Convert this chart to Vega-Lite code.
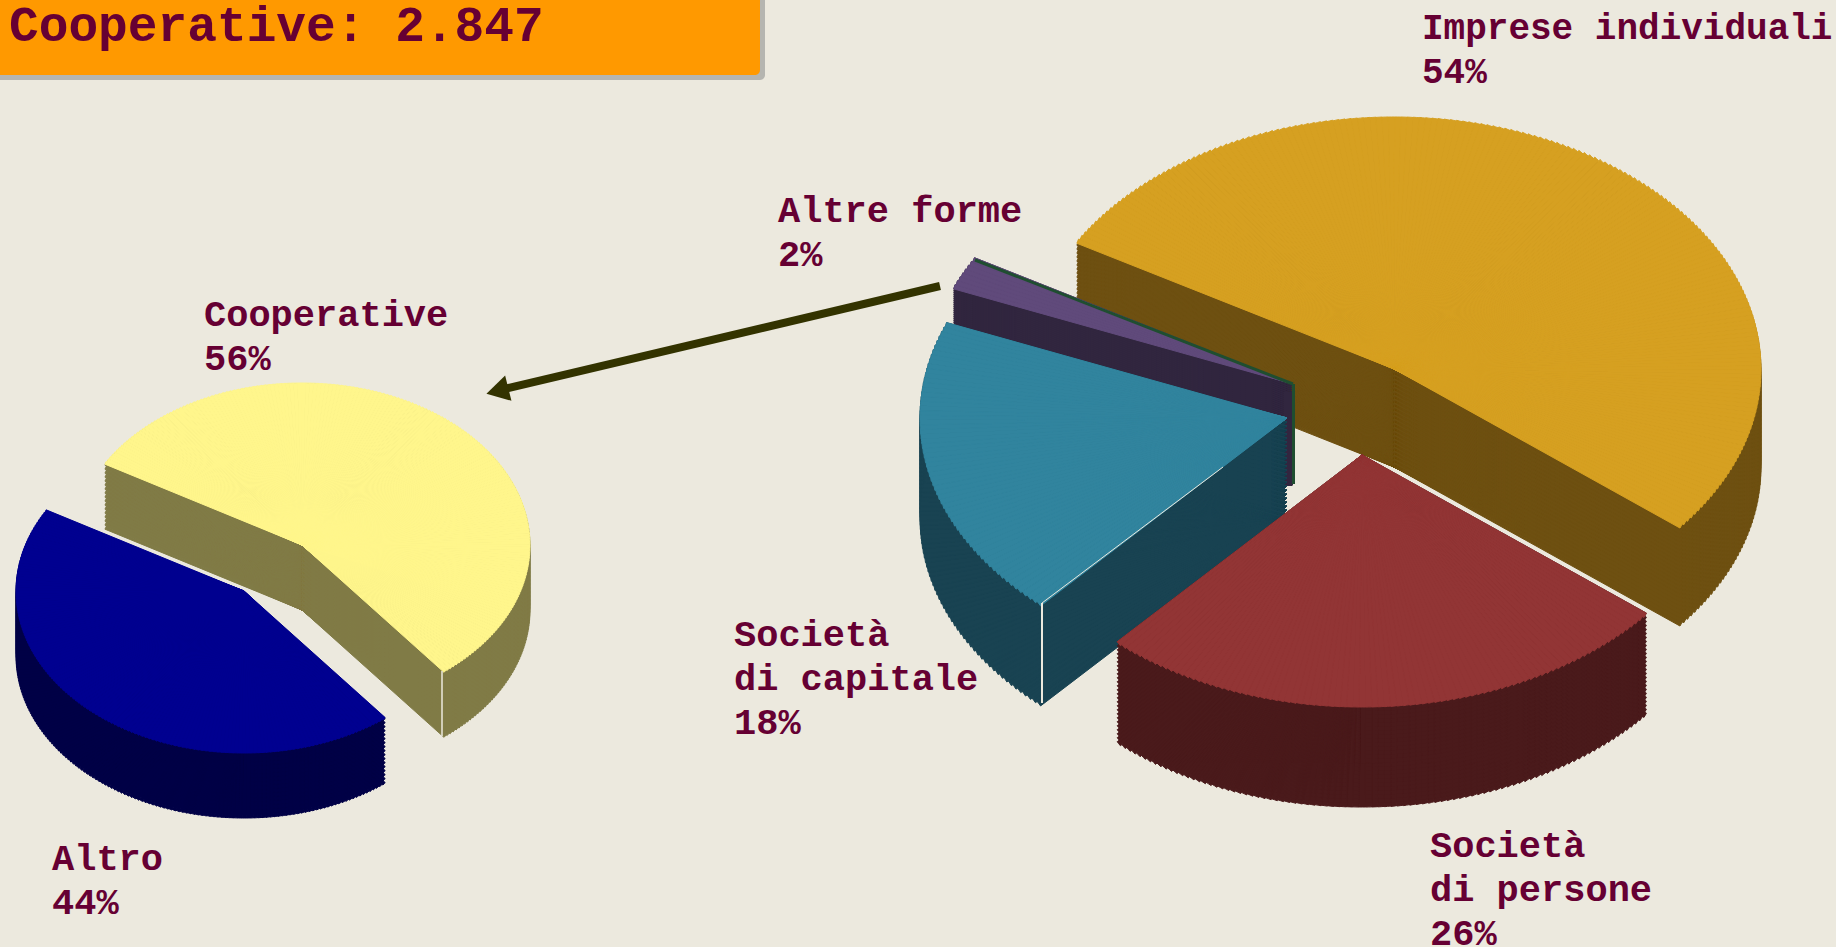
{
"$schema":"https://vega.github.io/schema/vega-lite/v6.json",
"width":1836,"height":947,"padding":0,"autosize":{"type":"none"},
"background":"#ECE9DE",
"config":{"view":{"stroke":null},"axis":{"disable":true},"legend":{"disable":true}},
"datasets":{"shares":[
{"pie":"Forma giuridica","label":"Imprese individuali","share":54,"rank":1},
{"pie":"Forma giuridica","label":"Società\ndi persone","share":26,"rank":2},
{"pie":"Forma giuridica","label":"Società\ndi capitale","share":18,"rank":3},
{"pie":"Forma giuridica","label":"Altre forme","share":2,"rank":4},
{"pie":"Tipo","label":"Cooperative","share":56,"rank":1},
{"pie":"Tipo","label":"Altro","share":44,"rank":2}
]},
"data":{"name":"shares"},
"transform":[
{"stack":"share","groupby":["pie"],"sort":[{"field":"rank","order":"ascending"}],"as":["s0","s1"]},
{"calculate":"ceil(datum.share*3.6)","as":"n"},
{"calculate":"sequence(0,datum.n)","as":"idx"},
{"flatten":["idx"]},
{"calculate":"datum.pie=='Tipo'?228:367","as":"rx"},
{"calculate":"datum.pie=='Tipo'?162:252","as":"ry"},
{"calculate":"datum.s0*3.6+datum.idx*datum.share*3.6/datum.n","as":"u0"},
{"calculate":"datum.s0*3.6+(datum.idx+1)*datum.share*3.6/datum.n","as":"u1"},
{"calculate":"datum.pie=='Tipo'?datum.u0:(datum.u0<=194.4?datum.u0-5.4*datum.u0/194.4:(datum.u0<=288?datum.u0-5.4-0.6*(datum.u0-194.4)/93.6:datum.u0-6+6*(datum.u0-288)/72))","as":"w0"},
{"calculate":"datum.pie=='Tipo'?datum.u1:(datum.u1<=194.4?datum.u1-5.4*datum.u1/194.4:(datum.u1<=288?datum.u1-5.4-0.6*(datum.u1-194.4)/93.6:datum.u1-6+6*(datum.u1-288)/72))","as":"w1"},
{"calculate":"(datum.w0-60)*PI/180","as":"t0"},
{"calculate":"(datum.w1-60)*PI/180","as":"t1"},
{"calculate":"atan2(datum.rx*sin(datum.t0),datum.ry*cos(datum.t0))","as":"a0"},
{"calculate":"datum.a0+(atan2(datum.rx*sin(datum.t1),datum.ry*cos(datum.t1))-datum.a0+2*PI)%(2*PI)","as":"a1"},
{"calculate":"(datum.t0+datum.t1)/2","as":"tm"},
{"calculate":"sqrt(pow(datum.rx*sin(datum.tm),2)+pow(datum.ry*cos(datum.tm),2))","as":"r"}
],
"layer":[
{"data":{"values":[{"box":"shadow"}]},"mark":{"type":"rect","color":"#B5B5B0","cornerRadius":5},"encoding":{"x":{"datum":-10,"type":"quantitative","scale":{"domain":[0,1836]}},"x2":{"datum":765},"y":{"datum":-10,"type":"quantitative","scale":{"domain":[947,0]}},"y2":{"datum":80}}},
{"data":{"values":[{"box":"title"}]},"mark":{"type":"rect","color":"#FF9900","cornerRadius":5},"encoding":{"x":{"datum":-10,"type":"quantitative","scale":{"domain":[0,1836]}},"x2":{"datum":760},"y":{"datum":-10,"type":"quantitative","scale":{"domain":[947,0]}},"y2":{"datum":75}}},
{"data":{"values":[{"title":"Cooperative: 2.847"}]},"mark":{"type":"text","font":"Liberation Mono","fontWeight":"bold","fontSize":49.5,"color":"#660033","align":"left","baseline":"alphabetic"},"encoding":{"text":{"field":"title"},"x":{"datum":9,"type":"quantitative","scale":{"domain":[0,1836]}},"y":{"datum":41,"type":"quantitative","scale":{"domain":[947,0]}}}},

{"transform":[{"filter":"datum.label=='Cooperative'"},{"calculate":"sequence(65,-1,-4)","as":"d"},{"flatten":["d"]}],"mark":{"type":"arc","fill":"#807B46","stroke":"#807B46","strokeWidth":1},"encoding":{"x":{"datum":302,"type":"quantitative","scale":{"domain":[0,1836]}},"y":{"datum":545,"type":"quantitative","scale":{"domain":[947,0]}},"yOffset":{"field":"d","type":"quantitative","scale":null},"theta":{"field":"a0","type":"quantitative","scale":null},"theta2":{"field":"a1"},"radius":{"field":"r","type":"quantitative","scale":null}}},
{"transform":[{"filter":"datum.label=='Cooperative'"}],"mark":{"type":"arc","fill":"#FFF68C","stroke":"#FFF68C","strokeWidth":1},"encoding":{"x":{"datum":302,"type":"quantitative","scale":{"domain":[0,1836]}},"y":{"datum":545,"type":"quantitative","scale":{"domain":[947,0]}},"theta":{"field":"a0","type":"quantitative","scale":null},"theta2":{"field":"a1"},"radius":{"field":"r","type":"quantitative","scale":null}}},
{"data":{"values":[{"edge":"e"}]},"mark":{"type":"rule","color":"#ECE9DE","strokeWidth":1.5},"encoding":{"x":{"datum":442,"type":"quantitative","scale":{"domain":[0,1836]}},"x2":{"datum":442},"y":{"datum":671,"type":"quantitative","scale":{"domain":[947,0]}},"y2":{"datum":736}}},
{"transform":[{"filter":"datum.label=='Altro'"},{"calculate":"sequence(65,-1,-4)","as":"d"},{"flatten":["d"]}],"mark":{"type":"arc","fill":"#000046","stroke":"#000046","strokeWidth":1},"encoding":{"x":{"datum":244,"type":"quantitative","scale":{"domain":[0,1836]}},"y":{"datum":591,"type":"quantitative","scale":{"domain":[947,0]}},"yOffset":{"field":"d","type":"quantitative","scale":null},"theta":{"field":"a0","type":"quantitative","scale":null},"theta2":{"field":"a1"},"radius":{"field":"r","type":"quantitative","scale":null}}},
{"transform":[{"filter":"datum.label=='Altro'"}],"mark":{"type":"arc","fill":"#000090","stroke":"#000090","strokeWidth":1},"encoding":{"x":{"datum":244,"type":"quantitative","scale":{"domain":[0,1836]}},"y":{"datum":591,"type":"quantitative","scale":{"domain":[947,0]}},"theta":{"field":"a0","type":"quantitative","scale":null},"theta2":{"field":"a1"},"radius":{"field":"r","type":"quantitative","scale":null}}},

{"transform":[{"filter":"datum.label=='Imprese individuali'"},{"calculate":"sequence(98,-1,-4)","as":"d"},{"flatten":["d"]}],"mark":{"type":"arc","fill":"#6E5011","stroke":"#6E5011","strokeWidth":1},"encoding":{"x":{"datum":1394,"type":"quantitative","scale":{"domain":[0,1836]}},"y":{"datum":369,"type":"quantitative","scale":{"domain":[947,0]}},"yOffset":{"field":"d","type":"quantitative","scale":null},"theta":{"field":"a0","type":"quantitative","scale":null},"theta2":{"field":"a1"},"radius":{"field":"r","type":"quantitative","scale":null}}},
{"transform":[{"filter":"datum.label=='Imprese individuali'"}],"mark":{"type":"arc","fill":"#D6A021","stroke":"#D6A021","strokeWidth":1},"encoding":{"x":{"datum":1394,"type":"quantitative","scale":{"domain":[0,1836]}},"y":{"datum":369,"type":"quantitative","scale":{"domain":[947,0]}},"theta":{"field":"a0","type":"quantitative","scale":null},"theta2":{"field":"a1"},"radius":{"field":"r","type":"quantitative","scale":null}}},

{"transform":[{"filter":"datum.label=='Altre forme'"},{"calculate":"sequence(100,-1,-2)","as":"d"},{"flatten":["d"]}],"mark":{"type":"arc","fill":"#31263F","stroke":"#31263F","strokeWidth":1},"encoding":{"x":{"datum":1293,"type":"quantitative","scale":{"domain":[0,1836]}},"y":{"datum":384,"type":"quantitative","scale":{"domain":[947,0]}},"yOffset":{"field":"d","type":"quantitative","scale":null},"theta":{"field":"a0","type":"quantitative","scale":null},"theta2":{"field":"a1"},"radius":{"field":"r","type":"quantitative","scale":null}}},
{"transform":[{"filter":"datum.label=='Altre forme'"}],"mark":{"type":"arc","fill":"#604A7B","stroke":"#604A7B","strokeWidth":1},"encoding":{"x":{"datum":1293,"type":"quantitative","scale":{"domain":[0,1836]}},"y":{"datum":384,"type":"quantitative","scale":{"domain":[947,0]}},"theta":{"field":"a0","type":"quantitative","scale":null},"theta2":{"field":"a1"},"radius":{"field":"r","type":"quantitative","scale":null}}},
{"data":{"values":[{"edge":"f"}]},"mark":{"type":"rule","color":"#31263F","strokeWidth":9},"encoding":{"x":{"datum":1288,"type":"quantitative","scale":{"domain":[0,1836]}},"x2":{"datum":1288},"y":{"datum":392,"type":"quantitative","scale":{"domain":[947,0]}},"y2":{"datum":486}}},
{"data":{"values":[{"edge":"a"}]},"mark":{"type":"rule","color":"#1F4E30","strokeWidth":3},"encoding":{"x":{"datum":975,"type":"quantitative","scale":{"domain":[0,1836]}},"x2":{"datum":1293},"y":{"datum":260,"type":"quantitative","scale":{"domain":[947,0]}},"y2":{"datum":384}}},
{"data":{"values":[{"edge":"b"}]},"mark":{"type":"rule","color":"#1F4E30","strokeWidth":3},"encoding":{"x":{"datum":1293.5,"type":"quantitative","scale":{"domain":[0,1836]}},"x2":{"datum":1293.5},"y":{"datum":384,"type":"quantitative","scale":{"domain":[947,0]}},"y2":{"datum":484}}},

{"transform":[{"filter":"datum.rank==3&&datum.pie!='Tipo'"},{"calculate":"sequence(100,-1,-4)","as":"d"},{"flatten":["d"]}],"mark":{"type":"arc","fill":"#194352","stroke":"#194352","strokeWidth":1},"encoding":{"x":{"datum":1287,"type":"quantitative","scale":{"domain":[0,1836]}},"y":{"datum":418,"type":"quantitative","scale":{"domain":[947,0]}},"yOffset":{"field":"d","type":"quantitative","scale":null},"theta":{"field":"a0","type":"quantitative","scale":null},"theta2":{"field":"a1"},"radius":{"field":"r","type":"quantitative","scale":null}}},
{"transform":[{"filter":"datum.rank==3&&datum.pie!='Tipo'"}],"mark":{"type":"arc","fill":"#31849E","stroke":"#31849E","strokeWidth":1},"encoding":{"x":{"datum":1287,"type":"quantitative","scale":{"domain":[0,1836]}},"y":{"datum":418,"type":"quantitative","scale":{"domain":[947,0]}},"theta":{"field":"a0","type":"quantitative","scale":null},"theta2":{"field":"a1"},"radius":{"field":"r","type":"quantitative","scale":null}}},
{"data":{"values":[{"edge":"c"}]},"mark":{"type":"rule","color":"#ECE9DE","strokeWidth":1},"encoding":{"x":{"datum":1042,"type":"quantitative","scale":{"domain":[0,1836]}},"x2":{"datum":1223},"y":{"datum":603,"type":"quantitative","scale":{"domain":[947,0]}},"y2":{"datum":467}}},
{"data":{"values":[{"edge":"d"}]},"mark":{"type":"rule","color":"#ECE9DE","strokeWidth":2},"encoding":{"x":{"datum":1042,"type":"quantitative","scale":{"domain":[0,1836]}},"x2":{"datum":1042},"y":{"datum":603,"type":"quantitative","scale":{"domain":[947,0]}},"y2":{"datum":703}}},

{"transform":[{"filter":"datum.rank==2&&datum.pie!='Tipo'"},{"calculate":"sequence(100,-1,-4)","as":"d"},{"flatten":["d"]}],"mark":{"type":"arc","fill":"#4A1A1B","stroke":"#4A1A1B","strokeWidth":1},"encoding":{"x":{"datum":1362,"type":"quantitative","scale":{"domain":[0,1836]}},"y":{"datum":455,"type":"quantitative","scale":{"domain":[947,0]}},"yOffset":{"field":"d","type":"quantitative","scale":null},"theta":{"field":"a0","type":"quantitative","scale":null},"theta2":{"field":"a1"},"radius":{"field":"r","type":"quantitative","scale":null}}},
{"transform":[{"filter":"datum.rank==2&&datum.pie!='Tipo'"}],"mark":{"type":"arc","fill":"#923535","stroke":"#923535","strokeWidth":1},"encoding":{"x":{"datum":1362,"type":"quantitative","scale":{"domain":[0,1836]}},"y":{"datum":455,"type":"quantitative","scale":{"domain":[947,0]}},"theta":{"field":"a0","type":"quantitative","scale":null},"theta2":{"field":"a1"},"radius":{"field":"r","type":"quantitative","scale":null}}},

{"data":{"values":[{"arrow":"shaft"}]},"mark":{"type":"rule","color":"#333300","strokeWidth":8},"encoding":{"x":{"datum":940,"type":"quantitative","scale":{"domain":[0,1836]}},"x2":{"datum":504},"y":{"datum":286,"type":"quantitative","scale":{"domain":[947,0]}},"y2":{"datum":389}}},
{"data":{"values":[{"arrow":"head"}]},"mark":{"type":"point","shape":"triangle","angle":256,"filled":true,"size":676,"color":"#333300","opacity":1},"encoding":{"x":{"datum":501,"type":"quantitative","scale":{"domain":[0,1836]}},"y":{"datum":390,"type":"quantitative","scale":{"domain":[947,0]}}}},

{"data":{"name":"shares"},"transform":[{"filter":"datum.label=='Imprese individuali'"},{"calculate":"datum.label+'\\n'+datum.share+'%'","as":"t"}],"mark":{"type":"text","font":"Liberation Mono","fontWeight":"bold","fontSize":36,"color":"#660033","align":"left","baseline":"alphabetic","lineBreak":"\n","lineHeight":44},"encoding":{"text":{"field":"t"},"x":{"datum":1422,"type":"quantitative","scale":{"domain":[0,1836]}},"y":{"datum":39,"type":"quantitative","scale":{"domain":[947,0]}}}},
{"data":{"name":"shares"},"transform":[{"filter":"datum.label=='Altre forme'"},{"calculate":"datum.label+'\\n'+datum.share+'%'","as":"t"}],"mark":{"type":"text","font":"Liberation Mono","fontWeight":"bold","fontSize":37,"color":"#660033","align":"left","baseline":"alphabetic","lineBreak":"\n","lineHeight":44},"encoding":{"text":{"field":"t"},"x":{"datum":778,"type":"quantitative","scale":{"domain":[0,1836]}},"y":{"datum":222,"type":"quantitative","scale":{"domain":[947,0]}}}},
{"data":{"name":"shares"},"transform":[{"filter":"datum.label=='Cooperative'"},{"calculate":"datum.label+'\\n'+datum.share+'%'","as":"t"}],"mark":{"type":"text","font":"Liberation Mono","fontWeight":"bold","fontSize":37,"color":"#660033","align":"left","baseline":"alphabetic","lineBreak":"\n","lineHeight":44},"encoding":{"text":{"field":"t"},"x":{"datum":204,"type":"quantitative","scale":{"domain":[0,1836]}},"y":{"datum":326,"type":"quantitative","scale":{"domain":[947,0]}}}},
{"data":{"name":"shares"},"transform":[{"filter":"datum.label=='Altro'"},{"calculate":"datum.label+'\\n'+datum.share+'%'","as":"t"}],"mark":{"type":"text","font":"Liberation Mono","fontWeight":"bold","fontSize":37,"color":"#660033","align":"left","baseline":"alphabetic","lineBreak":"\n","lineHeight":44},"encoding":{"text":{"field":"t"},"x":{"datum":52,"type":"quantitative","scale":{"domain":[0,1836]}},"y":{"datum":870,"type":"quantitative","scale":{"domain":[947,0]}}}},
{"data":{"name":"shares"},"transform":[{"filter":"datum.rank==3&&datum.pie!='Tipo'"},{"calculate":"datum.label+'\\n'+datum.share+'%'","as":"t"}],"mark":{"type":"text","font":"Liberation Mono","fontWeight":"bold","fontSize":37,"color":"#660033","align":"left","baseline":"alphabetic","lineBreak":"\n","lineHeight":44},"encoding":{"text":{"field":"t"},"x":{"datum":734,"type":"quantitative","scale":{"domain":[0,1836]}},"y":{"datum":646,"type":"quantitative","scale":{"domain":[947,0]}}}},
{"data":{"name":"shares"},"transform":[{"filter":"datum.rank==2&&datum.pie!='Tipo'"},{"calculate":"datum.label+'\\n'+datum.share+'%'","as":"t"}],"mark":{"type":"text","font":"Liberation Mono","fontWeight":"bold","fontSize":37,"color":"#660033","align":"left","baseline":"alphabetic","lineBreak":"\n","lineHeight":44},"encoding":{"text":{"field":"t"},"x":{"datum":1430,"type":"quantitative","scale":{"domain":[0,1836]}},"y":{"datum":857,"type":"quantitative","scale":{"domain":[947,0]}}}}
]
}
